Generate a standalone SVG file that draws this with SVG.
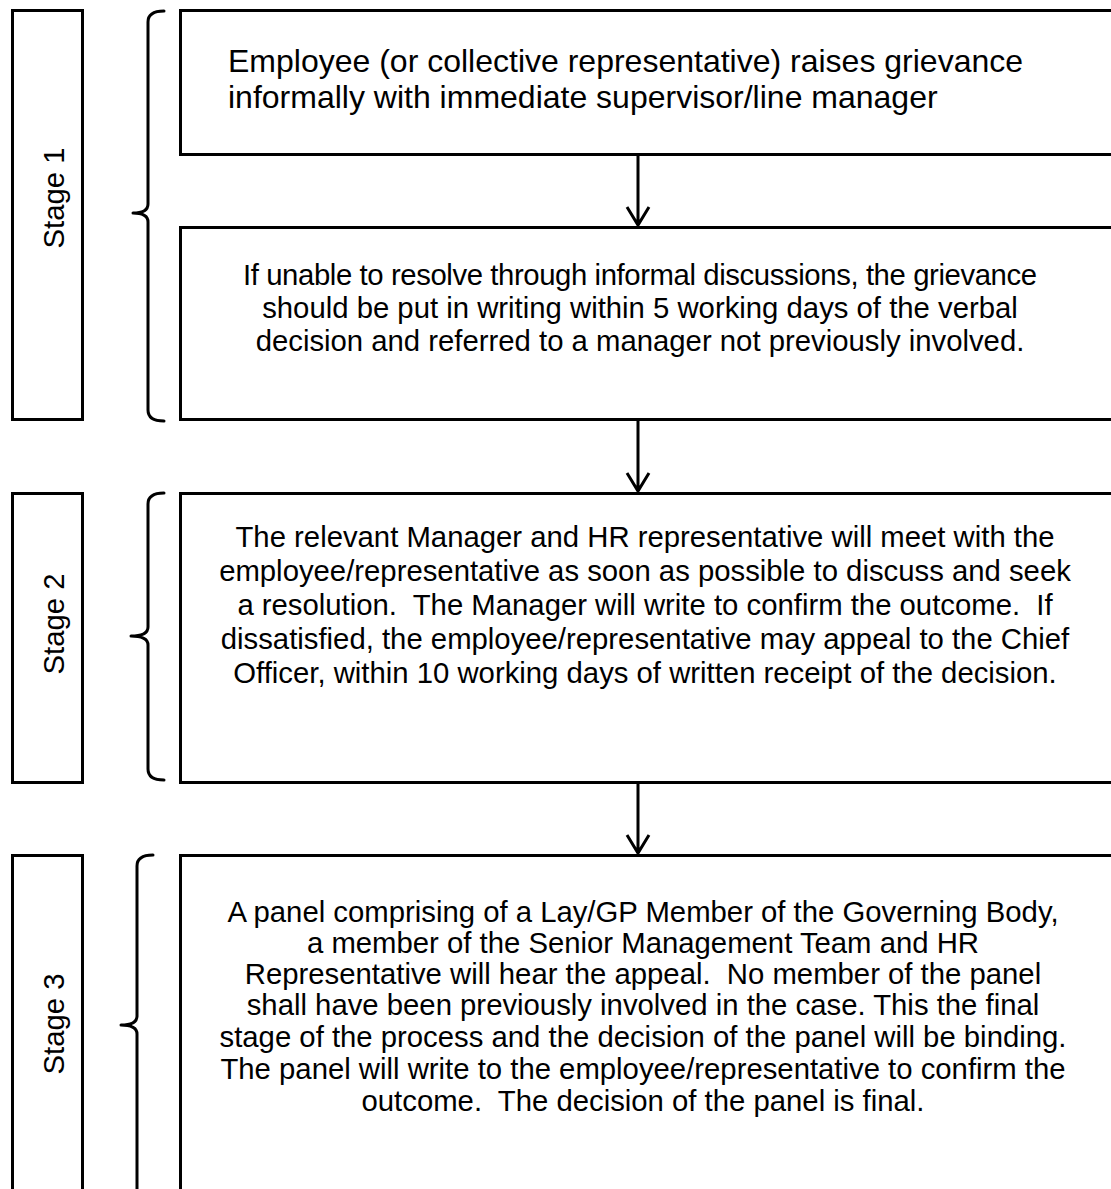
<svg xmlns="http://www.w3.org/2000/svg" width="1111" height="1189" viewBox="0 0 1111 1189">
<style>
.box{fill:none;stroke:#000;stroke-width:3}
.br{fill:none;stroke:#000;stroke-width:3;stroke-linecap:round;stroke-linejoin:round}
.t{font-family:"Liberation Sans",Arial,sans-serif;font-size:29.3px;fill:#000;white-space:pre}
.c{text-anchor:middle}
.lbl{font-family:"Liberation Sans",Arial,sans-serif;font-size:29.3px;fill:#000;text-anchor:middle}
.con{fill:none;stroke:#000;stroke-width:3}
</style>
<rect width="1111" height="1189" fill="#fff"/>
<g id="stage1">
<rect class="box" x="12.5" y="10.5" width="70" height="409"/>
<text class="lbl" transform="translate(64,198) rotate(-90)">Stage 1</text>
</g>
<g id="bracket1"><path class="br" d="M164,11 Q148,11 148,22 L148,204 Q148,213 133,213 Q148,213 148,222 L148,410 Q148,421 164,421"/></g>
<g id="stage2">
<rect class="box" x="12.5" y="493.5" width="70" height="289"/>
<text class="lbl" transform="translate(64,624) rotate(-90)">Stage 2</text>
</g>
<g id="bracket2"><path class="br" d="M164,493 Q148,493 148,504 L148,627 Q148,636 131,636 Q148,636 148,645 L148,769 Q148,780 164,780"/></g>
<g id="stage3">
<rect class="box" x="12.5" y="855.5" width="70" height="400"/>
<text class="lbl" transform="translate(64,1024) rotate(-90)">Stage 3</text>
</g>
<g id="bracket3"><path class="br" d="M153,855 Q137,855 137,866 L137,1016 Q137,1025 121,1025 Q137,1025 137,1034 L137,1200"/></g>
<g id="box1">
<rect class="box" x="180.5" y="10.5" width="1000" height="144"/>
<text class="t" style="font-size:32px" x="228" y="72">Employee (or collective representative) raises grievance</text>
<text class="t" style="font-size:32px" x="228" y="108">informally with immediate supervisor/line manager</text>
</g>
<g id="box2">
<rect class="box" x="180.5" y="227.5" width="1000" height="192"/>
<text class="t c" x="640" y="285" textLength="794" lengthAdjust="spacing">If unable to resolve through informal discussions, the grievance</text>
<text class="t c" x="640" y="318">should be put in writing within 5 working days of the verbal</text>
<text class="t c" x="640" y="351">decision and referred to a manager not previously involved.</text>
</g>
<g id="box3">
<rect class="box" x="180.5" y="493.5" width="1000" height="289"/>
<text class="t c" x="645" y="547">The relevant Manager and HR representative will meet with the</text>
<text class="t c" x="645" y="581">employee/representative as soon as possible to discuss and seek</text>
<text class="t c" x="645" y="615">a resolution.  The Manager will write to confirm the outcome.  If</text>
<text class="t c" x="645" y="649">dissatisfied, the employee/representative may appeal to the Chief</text>
<text class="t c" x="645" y="683">Officer, within 10 working days of written receipt of the decision.</text>
</g>
<g id="box4">
<rect class="box" x="180.5" y="855.5" width="1000" height="400"/>
<text class="t c" x="643" y="922">A panel comprising of a Lay/GP Member of the Governing Body,</text>
<text class="t c" x="643" y="953">a member of the Senior Management Team and HR</text>
<text class="t c" x="643" y="984">Representative will hear the appeal.  No member of the panel</text>
<text class="t c" x="643" y="1015">shall have been previously involved in the case. This the final</text>
<text class="t c" x="643" y="1047">stage of the process and the decision of the panel will be binding.</text>
<text class="t c" x="643" y="1079">The panel will write to the employee/representative to confirm the</text>
<text class="t c" x="643" y="1111">outcome.  The decision of the panel is final.</text>
</g>
<g id="connectors">
<path class="con" d="M638,155 L638,225 M627,207 L638,225 L649,207"/>
<path class="con" d="M638,420 L638,491 M627,473 L638,491 L649,473"/>
<path class="con" d="M638,783 L638,853 M627,835 L638,853 L649,835"/>
</g>
</svg>
